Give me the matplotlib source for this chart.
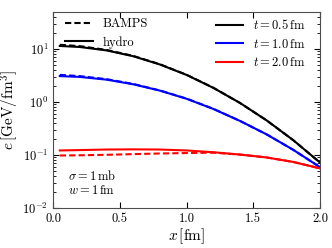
import numpy as np
import matplotlib
matplotlib.use("Agg")
import matplotlib.pyplot as plt
from matplotlib.lines import Line2D

plt.rcParams['font.family'] = 'serif'
plt.rcParams['font.serif'] = ['cmr10', 'DejaVu Serif']
plt.rcParams['mathtext.fontset'] = 'cm'
plt.rcParams['axes.formatter.use_mathtext'] = True

# x positions [fm]
x = [0.05, 0.2, 0.4, 0.6, 0.8, 1.0, 1.2, 1.4, 1.6, 1.8, 2.0]

# hydro (solid)
hydro_05 = [11.4, 10.9, 9.4, 7.3, 5.1, 3.24, 1.85, 0.96, 0.45, 0.19, 0.072]
hydro_10 = [3.08, 2.97, 2.64, 2.16, 1.64, 1.15, 0.74, 0.44, 0.245, 0.125, 0.059]
hydro_20 = [0.122, 0.124, 0.127, 0.128, 0.127, 0.122, 0.113, 0.102, 0.09, 0.074, 0.056]

# BAMPS (dashed)
bamps_05 = [12.0, 11.3, 9.6, 7.4, 5.15, 3.26, 1.86, 0.96, 0.45, 0.19, 0.072]
bamps_10 = [3.25, 3.08, 2.7, 2.19, 1.65, 1.16, 0.745, 0.44, 0.245, 0.125, 0.059]
bamps_20 = [0.098, 0.099, 0.101, 0.104, 0.107, 0.109, 0.111, 0.102, 0.09, 0.074, 0.056]

times = ['0.5', '1.0', '2.0']
colors = ['black', 'blue', 'red']

fig = plt.figure(figsize=(3.32, 2.48), dpi=100)
ax = fig.add_axes([0.16, 0.161, 0.804, 0.791])

for h, b, c in zip([hydro_05, hydro_10, hydro_20], [bamps_05, bamps_10, bamps_20], colors):
    ax.plot(x, h, color=c, lw=1.5, ls='-')
    ax.plot(x, b, color=c, lw=1.5, ls='--', dashes=(3, 1.5))

ax.set_yscale('log')
ax.set_xlim(0, 2)
ax.set_ylim(1e-2, 50)
ax.set_xticks([0.0, 0.5, 1.0, 1.5, 2.0])
ax.set_xticklabels(['0.0', '0.5', '1.0', '1.5', '2.0'])
ax.tick_params(which='both', direction='in', top=True, right=True, labelsize=9)
ax.tick_params(which='major', length=4)
ax.tick_params(which='minor', length=2)
for s in ax.spines.values():
    s.set_color('0.3')

ax.set_xlabel(r'$x\,[\mathrm{fm}]$', fontsize=11, labelpad=1)
ax.set_ylabel(r'$e\,[\mathrm{GeV/fm}^3]$', fontsize=11, labelpad=1)

h1 = [Line2D([], [], color='black', lw=1.5, ls='--', dashes=(3, 1.5)),
      Line2D([], [], color='black', lw=1.5)]
leg1 = ax.legend(h1, ['BAMPS', 'hydro'], loc='upper left', bbox_to_anchor=(0.022, 1.0),
                 frameon=False, fontsize=9, handlelength=2.2, borderaxespad=0.1,
                 labelspacing=0.45)
ax.add_artist(leg1)

h2 = [Line2D([], [], color=c, lw=1.5) for c in colors]
ax.legend(h2, [r'$t = %s\,\mathrm{fm}$' % t for t in times], loc='upper right',
          bbox_to_anchor=(0.97, 1.0), frameon=False, fontsize=9, handlelength=2.2,
          borderaxespad=0.1, labelspacing=0.45)

ax.text(0.11, 0.04, r'$\sigma = 1\,\mathrm{mb}$', fontsize=9, va='center')
ax.text(0.11, 0.021, r'$w = 1\,\mathrm{fm}$', fontsize=9, va='center')

fig.savefig('out.png', dpi=100)
